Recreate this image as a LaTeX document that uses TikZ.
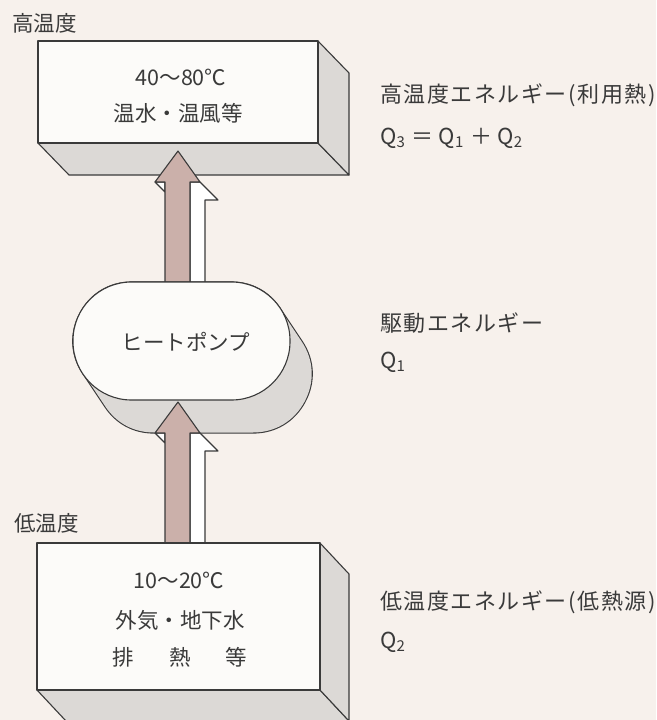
\documentclass[tikz,border=0pt]{standalone}
\usepackage{fontspec}
\setmainfont{Noto Sans CJK JP}
\newfontfamily\widejp[LetterSpace=7]{Noto Sans CJK JP}
\begin{document}
\begin{tikzpicture}[x=1pt,y=-1pt,line join=round]
\definecolor{bg}{HTML}{F7F1EC}
\definecolor{ink}{HTML}{3A3A3A}
\definecolor{facew}{HTML}{FCFBF9}
\definecolor{sidegray}{HTML}{DCD9D6}
\definecolor{arrowc}{HTML}{CBB0AA}
\tikzset{
  edge/.style={draw=ink,line width=1.1pt},
  frontface/.style={fill=facew,edge},
  sideface/.style={fill=sidegray,edge},
  arrowfront/.style={fill=arrowc,edge},
  arrowside/.style={fill=white,edge},
  txt/.style={text=ink,font=\fontsize{21.5}{26}\selectfont,inner sep=0pt},
  lbl/.style={text=ink,font=\widejp\fontsize{22}{26}\selectfont,inner sep=0pt,anchor=west},
}
\newcommand{\subq}[1]{\raisebox{-0.3ex}{\fontsize{15}{15}\selectfont #1}}
\useasboundingbox (0,0) rectangle (656,720);
\clip (0,0) rectangle (656,720);
\fill[bg] (0,0) rectangle (656,720);

% ---------- top box (high temperature) ----------
\coordinate (tA) at (38,41);
\coordinate (tB) at (318,41);
\coordinate (tC) at (318,143);
\coordinate (tD) at (38,143);
\draw[sideface] (tD) -- (tC) -- ++(31,32) -- ++(-280,0) -- cycle;
\draw[sideface] (tB) -- ++(31,32) -- ++(0,102) -- (tC) -- cycle;
\draw[frontface] (tA) rectangle (tC);
\node[txt] (hiT) at (181,77) {40〜80℃};
\node[txt] (hiM) at (178,113) {温水・温風等};
\node[txt,anchor=west] (hiLab) at (12,23) {高温度};

% ---------- upper arrow ----------
\draw[arrowside] (190,182) -- (200,182) -- (218,200) -- (205,200) -- (205,284) -- (190,284) -- cycle;
\draw[arrowside] (155,182) -- (165,182) -- (165,192) -- cycle;
\draw[arrowfront] (165,284) -- (165,182) -- (155,182) -- (178,151) -- (200,182) -- (190,182) -- (190,284) -- cycle;

% ---------- heat pump extrusion ----------
\draw[line width=119.2pt,ink] (132,341) -- (231,341) -- (253,374) -- (154,374) -- cycle;
\draw[line width=117pt,sidegray,fill=sidegray] (132,341) -- (231,341) -- (253,374) -- (154,374) -- cycle;

% ---------- lower arrow ----------
\draw[arrowside] (190,433) -- (200,433) -- (218,451) -- (205,451) -- (205,543) -- (190,543) -- cycle;
\draw[arrowside] (155,433) -- (165,433) -- (165,443) -- cycle;
\draw[arrowfront] (165,543) -- (165,433) -- (155,433) -- (178,402) -- (200,433) -- (190,433) -- (190,543) -- cycle;

% ---------- heat pump front ----------
\draw[frontface,rounded corners=58.5pt] (73,282) rectangle (290,400);
\node[txt] (hp) at (186,342) {ヒートポンプ};

% ---------- bottom box (low temperature) ----------
\coordinate (bA) at (37,543);
\coordinate (bB) at (320,543);
\coordinate (bC) at (320,690);
\coordinate (bD) at (37,690);
\draw[sideface] (bD) -- (bC) -- ++(29,31) -- ++(-283,0) -- cycle;
\draw[sideface] (bB) -- ++(29,31) -- ++(0,147) -- (bC) -- cycle;
\draw[frontface] (bA) rectangle (bC);
\node[txt] (loT) at (179,580) {10〜20℃};
\node[txt] (loM) at (180,620) {外気・地下水};
\node[txt] (loB) at (180,657) {排\hspace{35pt}熱\hspace{35pt}等};
\node[txt,anchor=west] (loLab) at (14,523) {低温度};

% ---------- right-hand labels ----------
\node[lbl] (e3) at (380,95) {高温度エネルギー(利用熱)};
\node[lbl] (q3) at (380,138) {Q\subq{3}\hspace{7pt}＝\hspace{5pt}Q\subq{1}\hspace{7pt}＋\hspace{5pt}Q\subq{2}};
\node[lbl] (e1) at (380,323) {駆動エネルギー};
\node[lbl] (q1) at (380,362) {Q\subq{1}};
\node[lbl] (e2) at (380,602) {低温度エネルギー(低熱源)};
\node[lbl] (q2) at (380,642) {Q\subq{2}};
\end{tikzpicture}
\end{document}
